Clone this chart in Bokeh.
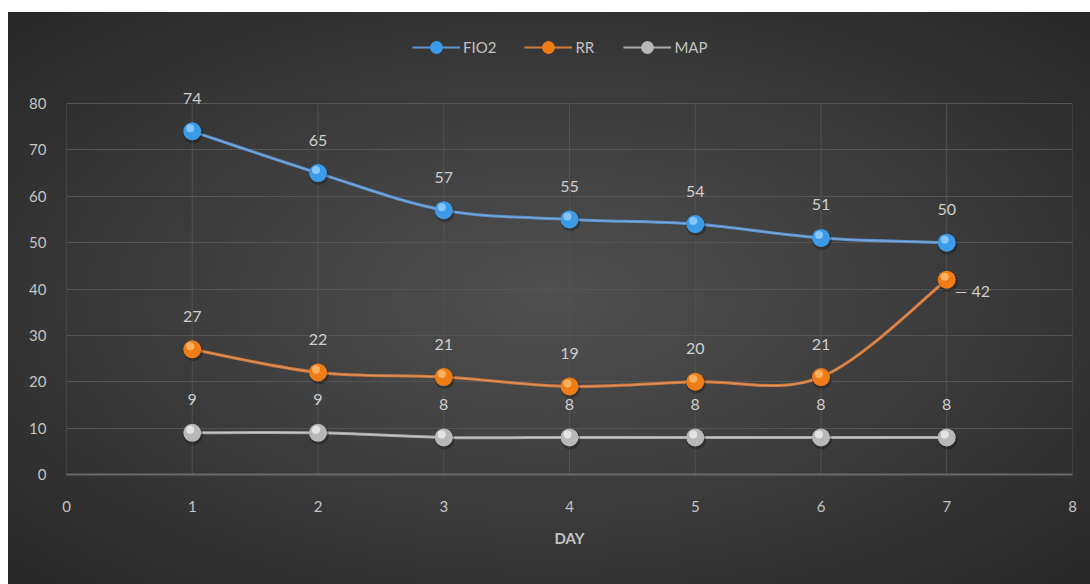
import numpy as np
from bokeh.plotting import figure
from bokeh.models import (ColumnDataSource, Legend, LegendItem, Range1d, FixedTicker, Spacer,
                          LabelSet)
from bokeh.layouts import column, row
from bokeh.core.properties import value
from bokeh.transform import dodge
from bokeh.embed import file_html
from bokeh.resources import INLINE

days = [1, 2, 3, 4, 5, 6, 7]
fio2 = [74, 65, 57, 55, 54, 51, 50]
rr = [27, 22, 21, 19, 20, 21, 42]
map_ = [9, 9, 8, 8, 8, 8, 8]
y_ticks = [0, 10, 20, 30, 40, 50, 60, 70, 80]
x_ticks = [0, 1, 2, 3, 4, 5, 6, 7, 8]

FONT = "Lato"
LBL = "#c4c4c4"

FRAME_H = 462
PLOT_H = 371
Y_TOP = y_ticks[-1] * FRAME_H / PLOT_H  # extra headroom above the axis for legend/labels

p = figure(width=1082, height=572, output_backend="svg", toolbar_location=None,
           x_range=Range1d(x_ticks[0], x_ticks[-1]), y_range=Range1d(0, Y_TOP),
           min_border_left=58, min_border_right=18, min_border_top=0, min_border_bottom=110)
p.border_fill_color = None
p.background_fill_color = None
p.outline_line_color = None
p.styles = {"background": "radial-gradient(ellipse at 50% 50%, #505050 0%, #3c3c3c 50%, #272727 100%)"}

p.xgrid.visible = False
p.ygrid.ticker = FixedTicker(ticks=y_ticks)
p.ygrid.grid_line_color = "#555555"
# vertical grid lines limited to the value axis extent
p.segment(x0=x_ticks, x1=x_ticks, y0=[y_ticks[0]] * len(x_ticks), y1=[y_ticks[-1]] * len(x_ticks),
          line_color="#525252", line_width=1)

p.xaxis.ticker = FixedTicker(ticks=x_ticks)
p.yaxis.ticker = FixedTicker(ticks=y_ticks)
for ax in (p.xaxis[0], p.yaxis[0]):
    ax.major_tick_line_color = None
    ax.minor_tick_line_color = None
    ax.major_label_text_color = LBL
    ax.major_label_text_font = FONT
    ax.major_label_text_font_size = "15px"
p.yaxis[0].axis_line_color = None
p.yaxis[0].major_label_standoff = 14
p.xaxis[0].axis_line_color = "#6a6a6a"
p.xaxis[0].axis_line_width = 2
p.xaxis[0].major_label_standoff = 20
p.xaxis[0].axis_label = "DAY"
p.xaxis[0].axis_label_text_color = LBL
p.xaxis[0].axis_label_text_font = FONT
p.xaxis[0].axis_label_text_font_size = "15px"
p.xaxis[0].axis_label_text_font_style = "bold"
p.xaxis[0].axis_label_standoff = 14


def bezier_ctrl(xs, ys, t=1.0 / 6.0):
    xs = np.asarray(xs, float)
    ys = np.asarray(ys, float)
    n = len(xs)
    x0, y0, x1, y1, cx0, cy0, cx1, cy1 = [], [], [], [], [], [], [], []
    for i in range(n - 1):
        pm = i - 1 if i > 0 else i
        pp = i + 2 if i + 2 < n else i + 1
        x0.append(xs[i]); y0.append(ys[i]); x1.append(xs[i + 1]); y1.append(ys[i + 1])
        cx0.append(xs[i] + (xs[i + 1] - xs[pm]) * t)
        cy0.append(ys[i] + (ys[i + 1] - ys[pm]) * t)
        cx1.append(xs[i + 1] - (xs[pp] - xs[i]) * t)
        cy1.append(ys[i + 1] - (ys[pp] - ys[i]) * t)
    return dict(x0=x0, y0=y0, x1=x1, y1=y1, cx0=cx0, cy0=cy0, cx1=cx1, cy1=cy1)


styles = [
    ("FIO2", fio2, "#5c93cf", "#8fbbe8", "#3c9be8", "#9fd3ff"),
    ("RR", rr, "#d27a3c", "#eaa77a", "#f07c18", "#ffc27a"),
    ("MAP", map_, "#a8a8a8", "#dcdcdc", "#b8b8b8", "#f2f2f2"),
]

PX_X = 8.0 / 1006.0
PX_Y = 80.0 / 371.0

items = []
for name, vals, lc, lc2, mc, hc in styles:
    src = ColumnDataSource(bezier_ctrl(days, vals))
    p.bezier(x0="x0", y0="y0", x1="x1", y1="y1", cx0="cx0", cy0="cy0", cx1="cx1", cy1="cy1",
             source=src, line_color=lc, line_width=3)
    p.bezier(x0="x0", y0="y0", x1="x1", y1="y1", cx0="cx0", cy0="cy0", cx1="cx1", cy1="cy1",
             source=src, line_color=lc2, line_width=1, line_alpha=0.6)
    psrc = ColumnDataSource(dict(x=days, y=vals))
    p.scatter(x=dodge("x", PX_X, range=p.x_range), y=dodge("y", -2 * PX_Y, range=p.y_range),
              source=psrc, size=20, fill_color="#000000", fill_alpha=0.25, line_color=None)
    p.scatter(x="x", y="y", source=psrc, size=18, fill_color=mc, line_color=None)
    p.scatter(x=dodge("x", -2 * PX_X, range=p.x_range), y=dodge("y", 3 * PX_Y, range=p.y_range),
              source=psrc, size=8, fill_color=hc, fill_alpha=0.75, line_color=None)
    # legend proxies
    ll = p.line(x=[np.nan], y=[np.nan], line_color=lc, line_width=2)
    lm = p.scatter(x=[np.nan], y=[np.nan], size=13, fill_color=mc, line_color=None)
    items.append(LegendItem(label=name, renderers=[ll, lm]))

    # data labels
    lab_x = days if name != "RR" else days[:-1]
    lab_y = vals if name != "RR" else vals[:-1]
    lsrc = ColumnDataSource(dict(x=lab_x, y=lab_y, t=[str(v) for v in lab_y]))
    p.add_layout(LabelSet(x="x", y="y", text="t", source=lsrc, y_offset=33,
                          text_align="center", text_baseline="middle", text_color="#cfcfcf",
                          text_font=value(FONT), text_font_size="16px"))

# RR last label with leader line to the right
p.add_layout(LabelSet(x="x", y="y", text="t",
                      source=ColumnDataSource(dict(x=[days[-1]], y=[rr[-1]],
                                                   t=["\u2014 " + str(rr[-1])])),
                      x_offset=8, y_offset=-11, text_align="left", text_baseline="middle",
                      text_color="#cfcfcf", text_font=value(FONT), text_font_size="16px"))

legend = Legend(items=items, orientation="horizontal", location=(346, 411),
                background_fill_alpha=0, border_line_color=None, padding=0, margin=0,
                glyph_width=48, glyph_height=32, label_standoff=3, spacing=28,
                label_text_color=LBL, label_text_font=FONT, label_text_font_size="15px")
p.add_layout(legend, "center")

layout = column(Spacer(height=12), row(Spacer(width=8), p))
open("out.html", "w").write(file_html(layout, INLINE))
